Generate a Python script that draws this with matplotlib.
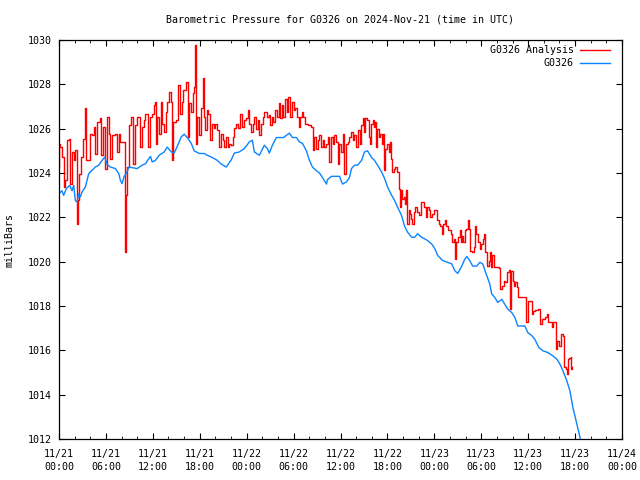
import numpy as np
import pandas as pd
import matplotlib
matplotlib.use("Agg")
import matplotlib.pyplot as plt
import matplotlib.dates as mdates

# horas desde 2024-11-21 00:00 UTC
start = pd.Timestamp("2024-11-21 00:00")
end = pd.Timestamp("2024-11-24 00:00")

# G0326 (observado)
obs_hours = [0.00, 0.38, 0.60, 0.94, 1.37, 1.67, 1.88, 2.09, 2.31, 2.52, 2.73, 2.94,
             3.37, 3.59, 3.80, 4.23, 4.65, 5.08, 5.51, 5.85, 6.15, 6.57, 7.21, 7.65,
             7.85, 8.07, 8.29, 8.71, 8.93, 9.99, 10.63, 11.06, 11.49, 11.70, 11.91,
             12.34, 12.81, 13.45, 13.84, 14.35, 14.73, 15.12, 15.63, 16.01, 16.40,
             16.91, 17.29, 17.94, 18.58, 18.96, 19.60, 20.24, 20.75, 21.39, 22.04,
             22.42, 23.06, 23.70, 24.34, 24.73, 24.98, 25.62, 26.26, 26.65, 26.90,
             27.29, 27.80, 28.71, 29.47, 29.85, 30.36, 30.75, 31.13, 31.64, 32.03,
             32.41, 32.92, 33.31, 33.69, 34.21, 34.33, 34.85, 35.87, 36.26, 36.77,
             37.15, 37.41, 37.79, 38.18, 38.69, 39.07, 39.46, 39.97, 40.35, 40.74,
             41.25, 41.64, 42.02, 42.53, 42.92, 43.30, 43.81, 44.20, 44.58, 45.10,
             45.48, 45.86, 46.38, 46.76, 47.14, 47.66, 48.04, 48.43, 49.07, 49.71,
             50.22, 50.60, 50.99, 51.50, 51.88, 52.14, 52.53, 52.91, 53.42, 53.81,
             54.19, 54.70, 55.09, 55.34, 55.73, 56.11, 56.63, 57.01, 57.39, 57.91,
             58.29, 58.67, 59.57, 59.96, 60.47, 60.85, 61.37, 61.88, 62.52, 63.16,
             63.67, 64.06, 64.44, 64.95, 65.34, 65.72, 66.23, 66.62, 66.75]
obs_mb = [1023.07, 1023.20, 1022.99, 1023.30, 1023.44, 1023.20, 1023.44, 1022.76, 1022.69,
          1023.07, 1022.92, 1023.14, 1023.37, 1023.67, 1023.97, 1024.12, 1024.27, 1024.35,
          1024.57, 1024.72, 1024.39, 1024.27, 1024.20, 1023.97, 1023.67, 1023.52, 1023.82,
          1024.05, 1024.27, 1024.20, 1024.35, 1024.42, 1024.65, 1024.75, 1024.50, 1024.57,
          1024.80, 1024.95, 1025.17, 1024.95, 1024.90, 1025.20, 1025.63, 1025.75, 1025.60,
          1025.34, 1025.00, 1024.88, 1024.88, 1024.80, 1024.70, 1024.57, 1024.40, 1024.27,
          1024.60, 1024.90, 1024.95, 1025.10, 1025.40, 1025.48, 1024.95, 1024.80, 1025.25,
          1025.10, 1024.90, 1025.25, 1025.60, 1025.60, 1025.80, 1025.60, 1025.60, 1025.40,
          1025.34, 1025.00, 1024.57, 1024.27, 1024.10, 1024.00, 1023.80, 1023.50, 1023.70,
          1023.85, 1023.85, 1023.50, 1023.60, 1023.80, 1024.20, 1024.35, 1024.35, 1024.57,
          1024.95, 1025.00, 1024.70, 1024.57, 1024.35, 1024.05, 1023.75, 1023.37, 1023.00,
          1022.76, 1022.46, 1022.08, 1021.60, 1021.33, 1021.10, 1021.10, 1021.26, 1021.10,
          1021.03, 1020.95, 1020.80, 1020.60, 1020.28, 1020.05, 1019.97, 1019.90, 1019.60,
          1019.47, 1019.80, 1020.10, 1020.23, 1020.05, 1019.80, 1019.80, 1019.97, 1019.90,
          1019.37, 1019.00, 1018.54, 1018.39, 1018.16, 1018.30, 1018.08, 1017.86, 1017.70,
          1017.49, 1017.10, 1017.10, 1016.80, 1016.66, 1016.50, 1016.13, 1015.98, 1015.90,
          1015.75, 1015.60, 1015.38, 1015.08, 1014.62, 1014.17, 1013.42, 1012.66, 1012.06,
          1011.90]

# G0326 Analysis
ana_hours = [0.00, 0.05, 0.17, 0.38, 0.60, 0.81, 1.02, 1.32, 1.45, 1.67, 1.88, 2.09,
             2.31, 2.43, 2.60, 2.82, 3.07, 3.37, 3.50, 3.80, 3.93, 4.23, 4.45, 4.65,
             4.87, 5.21, 5.42, 5.60, 5.93, 6.15, 6.37, 6.57, 6.79, 7.21, 7.43, 7.65,
             7.85, 8.29, 8.42, 8.55, 8.71, 8.93, 9.22, 9.48, 9.70, 9.99, 10.34, 10.63,
             10.93, 11.06, 11.36, 11.62, 11.91, 12.13, 12.34, 12.39, 12.59, 12.81, 13.03,
             13.23, 13.45, 13.67, 13.87, 14.09, 14.31, 14.44, 14.61, 14.95, 15.25, 15.46,
             15.67, 15.92, 16.23, 16.44, 16.65, 16.87, 17.08, 17.30, 17.39, 17.51, 17.64,
             17.85, 18.15, 18.36, 18.49, 18.67, 18.87, 19.09, 19.35, 19.51, 19.77, 19.99,
             20.20, 20.50, 20.72, 20.92, 21.14, 21.36, 21.56, 21.78, 22.00, 22.20, 22.42,
             22.64, 22.93, 23.19, 23.41, 23.61, 23.92, 24.12, 24.34, 24.56, 24.76, 24.98,
             25.20, 25.40, 25.62, 25.84, 26.05, 26.26, 26.56, 26.81, 26.99, 27.25, 27.42,
             27.67, 27.84, 28.10, 28.31, 28.53, 28.70, 28.91, 29.12, 29.34, 29.56, 29.81,
             30.02, 30.23, 30.45, 30.66, 30.88, 31.09, 31.26, 31.48, 31.81, 32.25, 32.45,
             32.67, 32.89, 33.09, 33.31, 33.53, 33.73, 33.95, 34.17, 34.37, 34.59, 34.81,
             35.01, 35.23, 35.45, 35.65, 35.87, 36.09, 36.29, 36.51, 36.73, 36.93, 37.15,
             37.37, 37.58, 37.79, 38.01, 38.22, 38.43, 38.65, 38.86, 38.99, 39.16, 39.37,
             39.59, 39.72, 39.93, 40.14, 40.27, 40.45, 40.57, 40.70, 40.87, 41.09, 41.29,
             41.47, 41.60, 41.73, 41.93, 42.15, 42.28, 42.50, 42.62, 42.83, 43.01, 43.21,
             43.43, 43.56, 43.69, 43.85, 44.07, 44.29, 44.42, 44.54, 44.71, 44.84, 45.06,
             45.18, 45.35, 45.57, 45.78, 45.99, 46.25, 46.47, 46.67, 46.89, 47.11, 47.31,
             47.49, 47.70, 47.91, 48.13, 48.34, 48.55, 48.77, 48.98, 49.16, 49.32, 49.45,
             49.75, 49.96, 50.18, 50.31, 50.48, 50.64, 50.82, 51.03, 51.25, 51.37, 51.54,
             51.67, 51.89, 52.10, 52.27, 52.44, 52.62, 52.82, 53.04, 53.21, 53.38, 53.59,
             53.81, 54.02, 54.23, 54.36, 54.54, 54.74, 54.96, 55.18, 55.31, 55.43, 55.60,
             56.28, 56.46, 56.67, 56.88, 57.10, 57.31, 57.52, 57.65, 57.78, 58.00, 58.16,
             58.33, 58.51, 58.71, 59.44, 59.66, 59.87, 60.00, 60.30, 60.51, 60.56, 60.85,
             61.28, 61.49, 61.71, 62.13, 62.43, 62.56, 62.87, 62.99, 63.20, 63.42, 63.51,
             63.63, 63.84, 63.97, 64.15, 64.40, 64.57, 64.83, 64.92, 65.04, 65.25, 65.43,
             65.47, 65.56]
ana_mb = [1024.27, 1025.33, 1025.18, 1024.72, 1023.37, 1023.67, 1025.48, 1025.55, 1023.52,
          1024.95, 1024.57, 1025.03, 1021.71, 1022.76, 1023.97, 1024.72, 1025.55, 1026.91,
          1024.57, 1024.57, 1025.78, 1025.70, 1026.08, 1024.87, 1026.31, 1026.46, 1024.80,
          1026.08, 1024.20, 1026.53, 1025.78, 1024.65, 1025.70, 1025.78, 1024.95, 1025.78,
          1025.40, 1025.40, 1020.43, 1022.99, 1024.27, 1026.16, 1026.53, 1024.42, 1026.16,
          1026.53, 1025.18, 1026.08, 1026.38, 1026.68, 1025.18, 1026.53, 1026.68, 1027.06,
          1027.21, 1025.33, 1026.53, 1025.78, 1027.21, 1026.23, 1025.85, 1026.76, 1027.21,
          1027.66, 1027.21, 1024.57, 1026.31, 1026.38, 1027.96, 1026.68, 1027.21, 1027.74,
          1028.12, 1025.63, 1027.14, 1026.76, 1027.59, 1027.89, 1029.77, 1025.33, 1026.53,
          1025.70, 1026.91, 1028.27, 1026.53, 1025.93, 1026.83, 1026.68, 1025.48, 1026.23,
          1026.01, 1026.23, 1025.93, 1025.18, 1025.78, 1025.48, 1025.18, 1025.63, 1025.18,
          1025.33, 1025.25, 1025.63, 1026.01, 1026.23, 1026.01, 1026.68, 1026.08, 1026.38,
          1026.46, 1026.83, 1026.23, 1025.85, 1026.23, 1026.53, 1026.00, 1026.38, 1025.70,
          1026.23, 1026.53, 1026.76, 1026.53, 1026.61, 1026.16, 1026.53, 1026.31, 1026.83,
          1026.53, 1027.14, 1026.46, 1027.06, 1026.53, 1027.36, 1026.76, 1027.44, 1026.53,
          1027.21, 1026.83, 1026.91, 1026.53, 1026.08, 1026.53, 1026.76, 1026.53, 1026.23,
          1026.16, 1026.08, 1025.02, 1025.63, 1025.10, 1025.48, 1025.70, 1025.18, 1025.48,
          1025.18, 1025.33, 1025.63, 1024.50, 1025.63, 1025.33, 1025.70, 1025.40, 1024.42,
          1025.33, 1024.95, 1025.78, 1023.97, 1025.33, 1025.40, 1025.63, 1025.85, 1025.48,
          1025.70, 1025.18, 1025.93, 1025.33, 1026.16, 1026.46, 1025.85, 1026.46, 1026.38,
          1025.63, 1025.33, 1026.23, 1026.38, 1026.08, 1026.31, 1025.18, 1026.00, 1025.63,
          1025.78, 1025.33, 1025.78, 1024.12, 1025.10, 1025.33, 1024.95, 1025.40, 1024.65,
          1024.05, 1024.20, 1024.27, 1024.05, 1023.29, 1022.46, 1023.22, 1022.84, 1022.91,
          1022.61, 1023.22, 1021.71, 1022.31, 1022.16, 1021.93, 1021.71, 1022.24, 1022.46,
          1022.24, 1022.09, 1022.69, 1022.69, 1022.46, 1022.01, 1022.46, 1022.31, 1022.01,
          1022.16, 1022.31, 1022.31, 1021.86, 1021.71, 1021.63, 1021.26, 1021.71, 1021.86,
          1021.63, 1021.41, 1021.41, 1021.26, 1020.88, 1021.03, 1020.13, 1020.88, 1021.11,
          1021.41, 1020.88, 1021.18, 1020.88, 1021.41, 1021.48, 1021.86, 1021.48, 1020.50,
          1020.43, 1020.65, 1021.63, 1021.26, 1020.88, 1020.58, 1020.80, 1021.03, 1021.26,
          1020.43, 1019.82, 1020.05, 1020.43, 1019.75, 1020.28, 1019.75, 1019.72, 1018.77,
          1018.92, 1019.15, 1019.07, 1019.52, 1019.63, 1017.86, 1019.60, 1019.15, 1018.92,
          1019.07, 1018.84, 1018.39, 1018.39, 1017.26, 1017.26, 1018.24, 1018.24, 1017.64,
          1017.79, 1017.82, 1017.86, 1017.19, 1017.41, 1017.49, 1017.64, 1017.26, 1017.26,
          1017.04, 1017.26, 1017.26, 1016.06, 1016.43, 1016.43, 1016.21, 1016.73, 1016.66,
          1015.23, 1015.15, 1014.92, 1015.60, 1015.65, 1015.68, 1015.15, 1015.23]

obs_t = start + pd.to_timedelta(obs_hours, unit="h")
ana_t = start + pd.to_timedelta(ana_hours, unit="h")

mono = "DejaVu Sans Mono"
fs = 7.2
plt.rcParams["font.family"] = mono
plt.rcParams["font.size"] = fs

fig = plt.figure(figsize=(6.4, 4.8), dpi=100)
ax = fig.add_axes([59 / 640, 1 - 439 / 480, 563 / 640, 399 / 480])

ax.plot(ana_t, ana_mb, color="#ff0000", lw=1.0, drawstyle="steps-post")
ax.plot(obs_t, obs_mb, color="#0a84ff", lw=1.0)

ax.set_xlim(start, end)
ax.set_ylim(1012, 1030)
ax.set_yticks(np.arange(1012, 1031, 2))
ax.xaxis.set_major_locator(mdates.HourLocator(byhour=[0, 6, 12, 18]))
ax.xaxis.set_minor_locator(mdates.HourLocator(interval=2))
ax.xaxis.set_major_formatter(mdates.DateFormatter("%m/%d\n%H:%M"))

ax.tick_params(which="both", direction="in", top=True, right=True, colors="black")
ax.tick_params(axis="x", which="major", length=4.5, pad=7)
ax.tick_params(axis="x", which="minor", length=2.5)
ax.tick_params(axis="y", which="major", length=4.5, pad=5)
for lbl in ax.get_xticklabels():
    lbl.set_linespacing(1.45)
for s in ax.spines.values():
    s.set_linewidth(0.9)

fig.text(340.5 / 640, 1 - 20 / 480,
         "Barometric Pressure for G0326 on 2024-Nov-21 (time in UTC)",
         ha="center", va="center", fontsize=fs)
fig.text(10 / 640, 0.5, "milliBars", rotation=90, ha="center", va="center", fontsize=fs)

# leyenda a mano, texto alineado a la derecha como en gnuplot
for yy, lab, col in [(0.975, "G0326 Analysis", "#ff0000"), (0.9424, "G0326", "#0a84ff")]:
    ax.text(0.9147, yy, lab, transform=ax.transAxes, ha="right", va="center", fontsize=fs)
    ax.plot([0.9254, 0.9787], [yy, yy], transform=ax.transAxes, color=col, lw=1.0)

fig.savefig("out.png", dpi=100)
